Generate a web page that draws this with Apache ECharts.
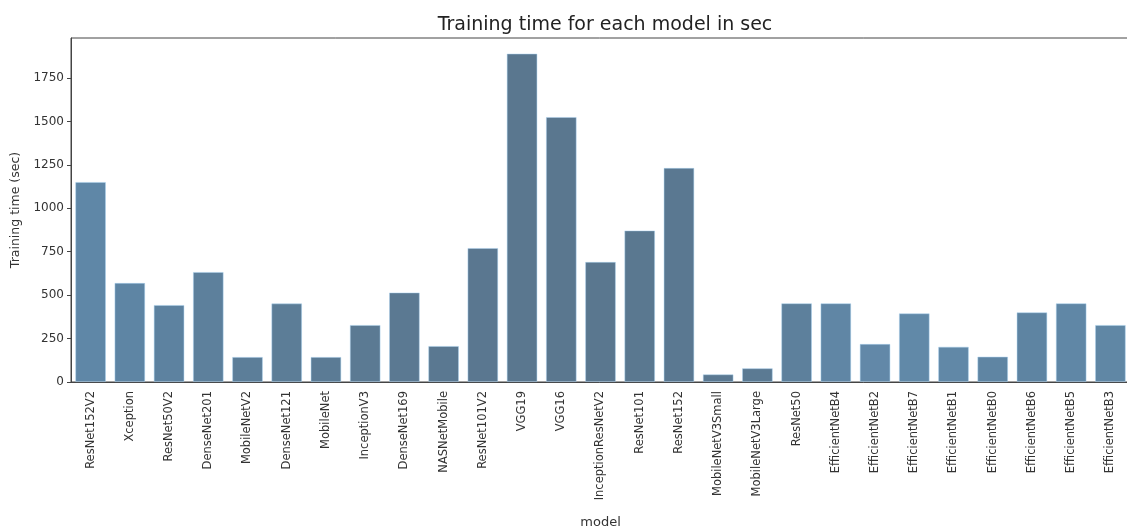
<!DOCTYPE html>
<html>
<head>
<meta charset="utf-8">
<script src="https://cdn.jsdelivr.net/npm/echarts@6/dist/echarts.min.js"></script>
<style>html,body{margin:0;padding:0;background:#fff;}#c{width:1127px;height:529px;}</style>
</head>
<body>
<div id="c"></div>
<script>
const models = ["ResNet152V2","Xception","ResNet50V2","DenseNet201","MobileNetV2","DenseNet121","MobileNet","InceptionV3","DenseNet169","NASNetMobile","ResNet101V2","VGG19","VGG16","InceptionResNetV2","ResNet101","ResNet152","MobileNetV3Small","MobileNetV3Large","ResNet50","EfficientNetB4","EfficientNetB2","EfficientNetB7","EfficientNetB1","EfficientNetB0","EfficientNetB6","EfficientNetB5","EfficientNetB3"];
const trainingTime = [1151,570,443,633,144,452,144,328,515,207,771,1890,1525,691,872,1232,44,79,453,453,219,395,203,146,401,453,328];
const yTicks = [0,250,500,750,1000,1250,1500,1750];

const palette = ["#5f87a7","#5e85a4","#5d82a0","#5d809c","#5c7e99","#5c7d97","#5b7b95","#5b7a93","#5b7992","#5a7891","#5a7790","#5a778f","#5a778f","#5a778f","#5a7890","#5a7891","#5b7992","#5b7a93","#5d809c","#6086a5","#6288a8","#6189a8","#6188a7","#5f85a3","#5e84a2","#6087a6","#6087a5"];

const chart = echarts.init(document.getElementById('c'));
const font = 'DejaVu Sans';
chart.setOption({
  animation: false,
  backgroundColor: '#ffffff',
  title: {
    text: 'Training time for each model in sec',
    left: 600, top: 11, textAlign: 'center',
    textStyle: {fontFamily: font, fontSize: 19, fontWeight: 'normal', color: '#222'}
  },
  grid: {left: 71, right: -3, top: 38, bottom: 529 - 382, show: true, borderColor: '#444', borderWidth: 1, backgroundColor: 'transparent', outerBoundsMode: 'none', containLabel: false},
  xAxis: {
    type: 'category',
    data: models,
    name: 'model',
    nameLocation: 'middle',
    nameGap: 134,
    nameTextStyle: {fontFamily: font, fontSize: 13, color: '#333'},
    axisLine: {lineStyle: {color: '#444', width: 1}},
    axisTick: {alignWithLabel: true, length: 4, lineStyle: {color: '#444'}},
    axisLabel: {rotate: 90, interval: 0, fontFamily: font, fontSize: 11.5, color: '#333', margin: 9}
  },
  yAxis: {
    type: 'value',
    min: 0, max: 1980, interval: 250,
    name: 'Training time (sec)',
    nameLocation: 'middle',
    nameGap: 48,
    nameTextStyle: {fontFamily: font, fontSize: 12.5, color: '#333'},
    axisLine: {show: true, lineStyle: {color: '#444', width: 1}},
    axisTick: {show: true, length: 4, lineStyle: {color: '#444'}},
    splitLine: {show: false},
    axisLabel: {fontFamily: font, fontSize: 12, color: '#333', margin: 7, showMaxLabel: false,
      formatter: v => yTicks.includes(v) ? String(v) : ''}
  },
  series: [{
    type: 'bar',
    data: trainingTime.map((v, i) => ({value: v, itemStyle: {color: palette[i]}})),
    barCategoryGap: '22%',
    itemStyle: {borderColor: 'rgba(170,210,240,0.6)', borderWidth: 0.8}
  }]
});
</script>
</body>
</html>
